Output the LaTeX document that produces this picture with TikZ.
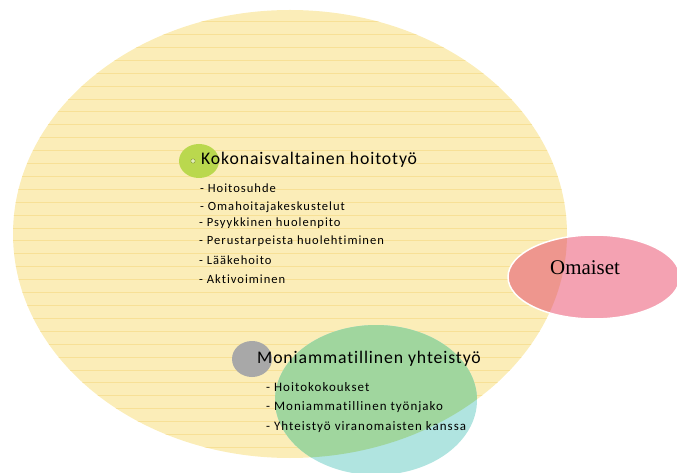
\documentclass[tikz,border=0pt]{standalone}
\usepackage{fontspec}
\setmainfont{Carlito}
\newfontfamily\omfont{Liberation Serif}
\newfontfamily\listfont[LetterSpace=8,Ligatures=NoCommon]{Carlito}
\newfontfamily\headfont[LetterSpace=5,Ligatures=NoCommon]{Carlito}
\definecolor{yellowfill}{RGB}{251,237,184}
\definecolor{stripeline}{RGB}{247,224,150}
\definecolor{greenfill}{RGB}{160,214,158}
\definecolor{cyanfill}{RGB}{176,228,224}
\definecolor{pinkfill}{RGB}{244,162,178}
\definecolor{salmonfill}{RGB}{238,150,142}
\definecolor{bulletgreen}{RGB}{186,216,78}
\definecolor{bulletgray}{RGB}{168,168,168}
\tikzset{
  stripe/.style={stripeline,line width=0.8bp},
  headtext/.style={anchor=west,inner sep=0pt,font=\headfont\fontsize{17.8}{20}\selectfont},
  itemtext/.style={anchor=west,inner sep=0pt,font=\listfont\fontsize{12.6}{14}\selectfont},
  itemtextb/.style={anchor=west,inner sep=0pt,font=\listfont\fontsize{13}{15}\selectfont},
}
\begin{document}
\begin{tikzpicture}[x=1bp,y=-1bp]
  \useasboundingbox (0,0) rectangle (677,473);
  \clip (0,0) rectangle (677,473);
  % iso ellipsi
  \fill[yellowfill] (290,234) ellipse [x radius=277, y radius=224];
  \begin{scope}
    \clip (290,234) ellipse [x radius=277, y radius=224];
    \foreach \y in {8.7,21.6,...,465} \draw[stripe] (0,\y) -- (677,\y);
  \end{scope}
  % moniammatillinen
  \fill[cyanfill] (376,400) ellipse [x radius=101, y radius=75];
  \begin{scope}
    \clip (290,234) ellipse [x radius=277, y radius=224];
    \fill[greenfill] (376,400) ellipse [x radius=101, y radius=75];
  \end{scope}
  % omaiset
  \fill[pinkfill] (594,277) ellipse [x radius=86, y radius=42];
  \begin{scope}
    \clip (290,234) ellipse [x radius=277, y radius=224];
    \fill[salmonfill] (594,277) ellipse [x radius=86, y radius=42];
  \end{scope}
  \draw[white,line width=1.5bp] (594,277) ellipse [x radius=86, y radius=42];
  % pallot
  \fill[bulletgreen] (199,161) ellipse [x radius=20, y radius=17];
  \filldraw[fill=bulletgreen!40,draw=bulletgreen!70!black,line width=0.4bp] (193,161) circle (2.2);
  \fill[bulletgray] (252,359) ellipse [x radius=20, y radius=18];

  \node[headtext] (hoitotyo) at (201,160) {Kokonaisvaltainen hoitotyö};
  \node[itemtext] (h1) at (200,188) {- Hoitosuhde};
  \node[itemtext] (h2) at (200,207) {- Omahoitajakeskustelut};
  \node[itemtext] (h3) at (199,223) {- Psyykkinen huolenpito};
  \node[itemtext] (h4) at (199,241) {- Perustarpeista huolehtiminen};
  \node[itemtext] (h5) at (199,260) {- Lääkehoito};
  \node[itemtext] (h6) at (199,279) {- Aktivoiminen};

  \node[headtext] (yhteistyo) at (257,359) {Moniammatillinen yhteistyö};
  \node[itemtextb] (y1) at (266,387) {- Hoitokokoukset};
  \node[itemtextb] (y2) at (266,407) {- Moniammatillinen työnjako};
  \node[itemtextb] (y3) at (266,427) {- Yhteistyö viranomaisten kanssa};

  \node[font=\omfont\fontsize{21}{25}\selectfont,inner sep=0pt] (omaiset) at (585,268) {Omaiset};
\end{tikzpicture}
\end{document}
